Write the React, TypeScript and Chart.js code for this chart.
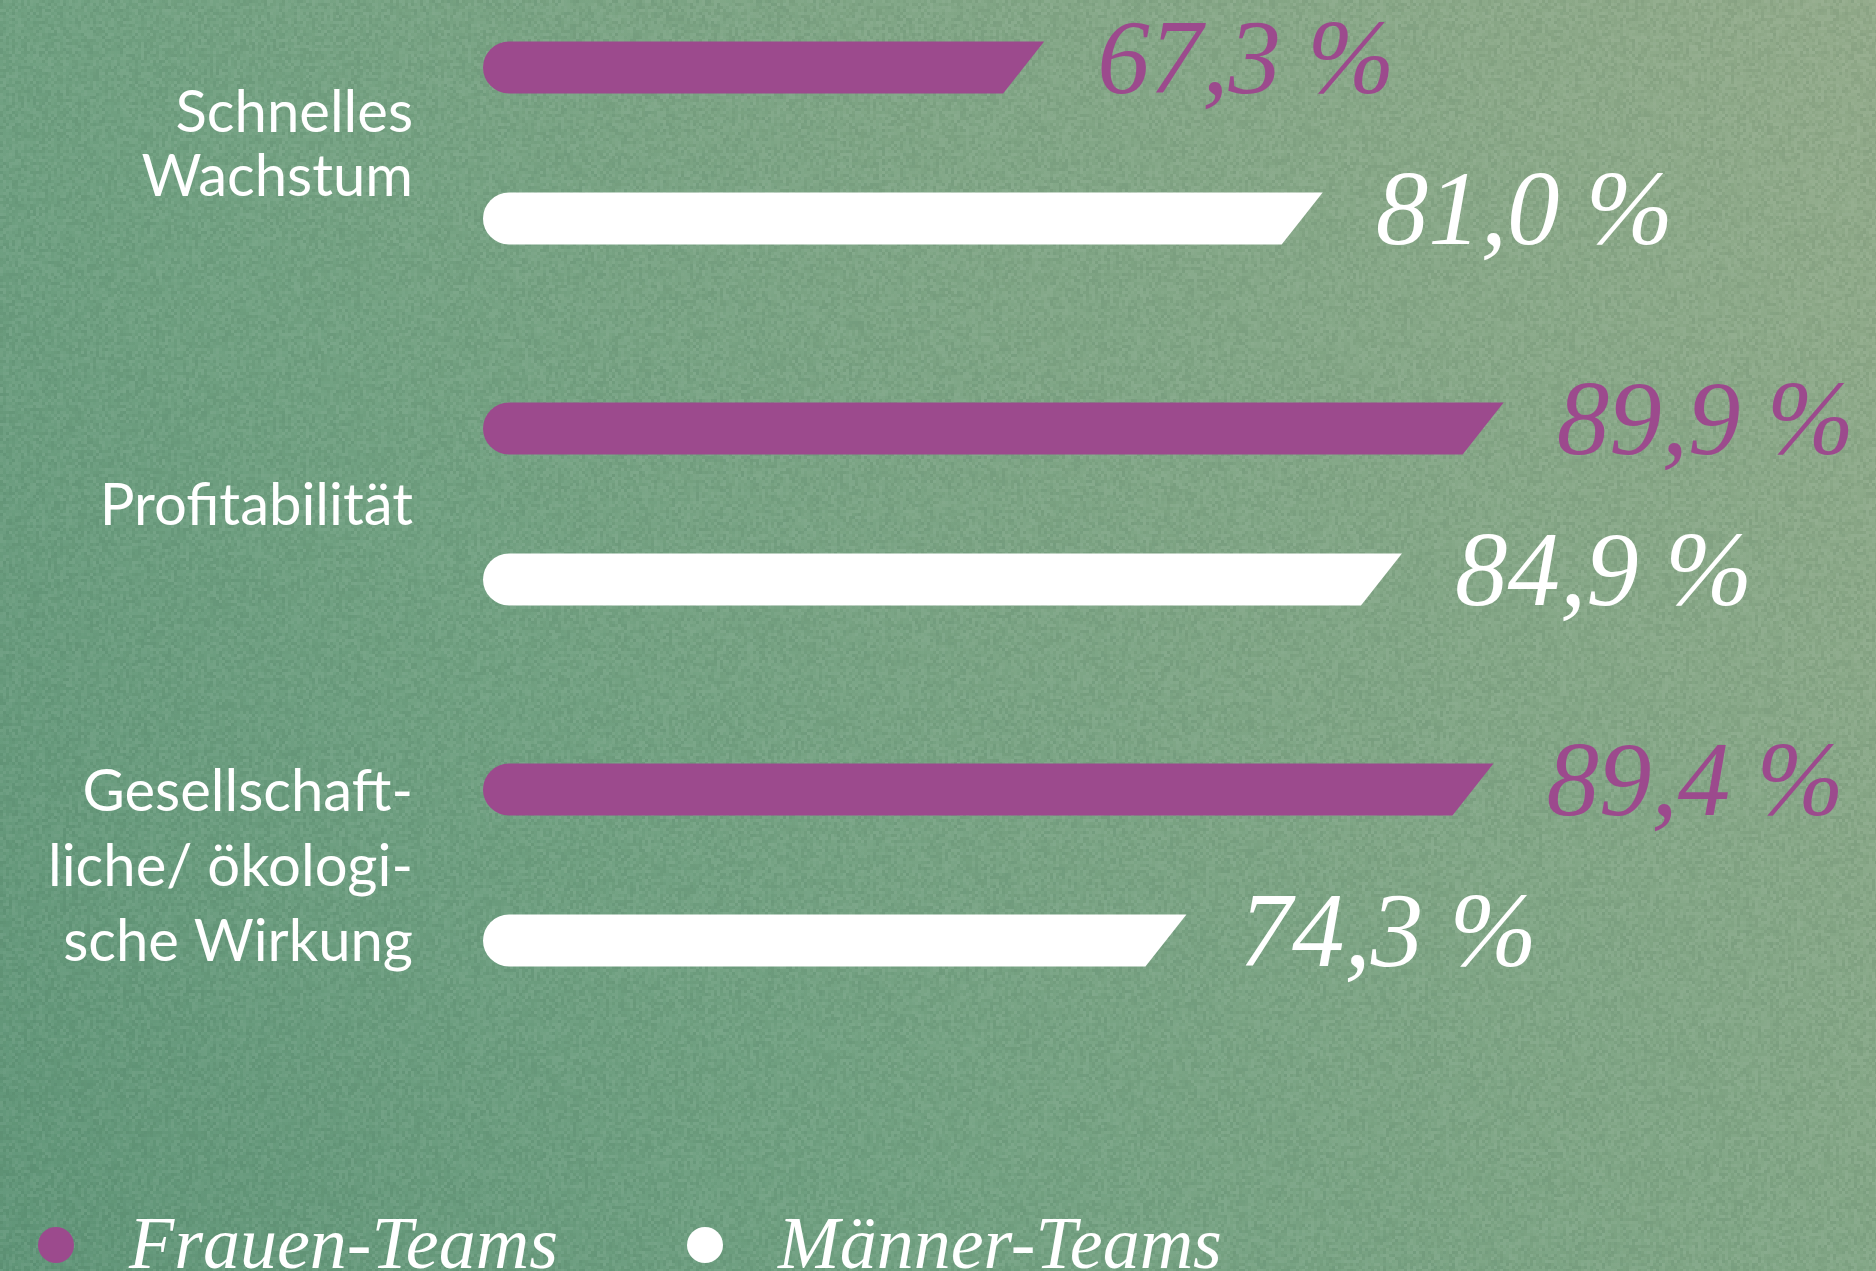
import React, { useEffect, useRef } from 'react';
import { Chart, registerables } from 'chart.js';

Chart.register(...registerables);

// ---- data ----
const categories: string[][] = [
  ['Schnelles', 'Wachstum'],
  ['Profitabilität'],
  ['Gesellschaft-', 'liche/ ökologi-', 'sche Wirkung'],
];
const seriesLabels = ['Frauen-Teams', 'Männer-Teams'];
const frauenValues = [67.3, 89.9, 89.4];
const maennerValues = [81.0, 84.9, 74.3];
const seriesColors = ['#9c4a8d', '#ffffff'];

const W = 1876;
const H = 1271;
const AXIS_MIN = 39.7;
const AXIS_MAX = 100;

const fmt = (v: number) => v.toFixed(1).replace('.', ',') + ' %';

// deterministic grain texture for the paper-like background
let grainCanvas: HTMLCanvasElement | null = null;
function getGrain(width: number, height: number) {
  if (grainCanvas) return grainCanvas;
  const c = document.createElement('canvas');
  c.width = width;
  c.height = height;
  const g = c.getContext('2d')!;
  const img = g.createImageData(width, height);
  const d = img.data;
  const cell = 3;
  for (let y = 0; y < height; y++) {
    const cy = (y / cell) | 0;
    for (let x = 0; x < width; x++) {
      const cx = (x / cell) | 0;
      let h = (cx * 374761393 + cy * 668265263) | 0;
      h = Math.imul(h ^ (h >>> 13), 1274126177);
      h = h ^ (h >>> 16);
      const n = (h & 255) / 255;
      const i = (y * width + x) * 4;
      const dark = n < 0.5;
      d[i] = dark ? 0 : 255;
      d[i + 1] = dark ? 30 : 255;
      d[i + 2] = dark ? 10 : 255;
      d[i + 3] = Math.round(Math.abs(n - 0.5) * 2 * 16);
    }
  }
  g.putImageData(img, 0, 0);
  grainCanvas = c;
  return c;
}

const backgroundPlugin = {
  id: 'bgGradient',
  beforeDraw(chart: any) {
    const { ctx, width, height } = chart;
    ctx.save();
    const g = ctx.createLinearGradient(0, height, width, 0);
    g.addColorStop(0, '#619679');
    g.addColorStop(0.33, '#71a182');
    g.addColorStop(0.62, '#80a686');
    g.addColorStop(1, '#93ab8b');
    ctx.fillStyle = g;
    ctx.fillRect(0, 0, width, height);
    ctx.drawImage(getGrain(width, height), 0, 0);
    ctx.restore();
  },
};

const slantBarsPlugin = {
  id: 'slantBars',
  afterDatasetsDraw(chart: any) {
    const { ctx } = chart;
    ctx.save();
    chart.data.datasets.forEach((ds: any, di: number) => {
      const meta = chart.getDatasetMeta(di);
      if (meta.hidden) return;
      meta.data.forEach((el: any, i: number) => {
        const { x, y, base, height } = el.getProps(['x', 'y', 'base', 'height'], true);
        const r = height / 2;
        const slant = height * 0.79;
        const top = y - r;
        const bottom = y + r;
        ctx.beginPath();
        ctx.moveTo(base + r, top);
        ctx.lineTo(x, top);
        ctx.lineTo(x - slant, bottom);
        ctx.lineTo(base + r, bottom);
        ctx.arc(base + r, y, r, Math.PI / 2, (3 * Math.PI) / 2);
        ctx.closePath();
        ctx.fillStyle = seriesColors[di];
        ctx.fill();

        // value label
        const v = ds.data[i] as number;
        ctx.font = 'italic 105px "Liberation Serif"';
        ctx.textAlign = 'left';
        ctx.textBaseline = 'alphabetic';
        ctx.fillStyle = seriesColors[di];
        ctx.fillText(fmt(v), x + 53, bottom);
      });
    });
    ctx.restore();
  },
};

const legendPlugin = {
  id: 'customLegend',
  afterDraw(chart: any) {
    const { ctx } = chart;
    ctx.save();
    const items = [
      { cx: 56, tx: 129 },
      { cx: 705, tx: 778 },
    ];
    const cy = 1245;
    chart.data.datasets.forEach((ds: any, di: number) => {
      const it = items[di];
      ctx.beginPath();
      ctx.arc(it.cx, cy, 18, 0, Math.PI * 2);
      ctx.fillStyle = seriesColors[di];
      ctx.fill();
      ctx.font = 'italic 74px "Liberation Serif"';
      ctx.fillStyle = '#ffffff';
      ctx.textAlign = 'left';
      ctx.textBaseline = 'alphabetic';
      ctx.fillText(ds.label, it.tx, 1268);
    });
    ctx.restore();
  },
};

export default function App() {
  const ref = useRef<HTMLCanvasElement | null>(null);

  useEffect(() => {
    document.body.style.margin = '0';
    const canvas = ref.current;
    if (!canvas) return;
    const chart = new Chart(canvas, {
      type: 'bar',
      data: {
        labels: categories as any,
        datasets: [
          {
            label: seriesLabels[0],
            data: frauenValues,
            backgroundColor: 'rgba(0,0,0,0)',
            borderWidth: 0,
            base: AXIS_MIN,
          },
          {
            label: seriesLabels[1],
            data: maennerValues,
            backgroundColor: 'rgba(0,0,0,0)',
            borderWidth: 0,
            base: AXIS_MIN,
          },
        ],
      },
      options: {
        indexAxis: 'y',
        responsive: false,
        animation: false,
        devicePixelRatio: 1,
        layout: {
          padding: { left: 0, right: 167, top: 143, bottom: 406 },
        },
        datasets: {
          bar: {
            categoryPercentage: 0.8366,
            barPercentage: 0.344,
          },
        },
        plugins: {
          legend: { display: false },
          tooltip: { enabled: false },
        },
        scales: {
          x: {
            display: false,
            min: AXIS_MIN,
            max: AXIS_MAX,
          },
          y: {
            offset: false,
            afterFit(scale: any) {
              scale.width = 483;
              scale.paddingTop = 0;
              scale.paddingBottom = 0;
              scale.paddingLeft = 0;
              scale.paddingRight = 0;
            },
            grid: { display: false, drawTicks: false },
            border: { display: false },
            ticks: {
              padding: 70,
              labelOffset: 2,
              color: '#ffffff',
              font: (c: any) => ({
                family: 'Lato',
                size: 58,
                lineHeight: (c.index === 2 ? 75 : 64) / 58,
              }),
            },
          },
        },
      },
      plugins: [backgroundPlugin, slantBarsPlugin, legendPlugin],
    } as any);
    return () => chart.destroy();
  }, []);

  return (
    <div style={{ width: W, height: H, overflow: 'hidden' }}>
      <canvas ref={ref} width={W} height={H} style={{ width: W, height: H, display: 'block' }} />
    </div>
  );
}
